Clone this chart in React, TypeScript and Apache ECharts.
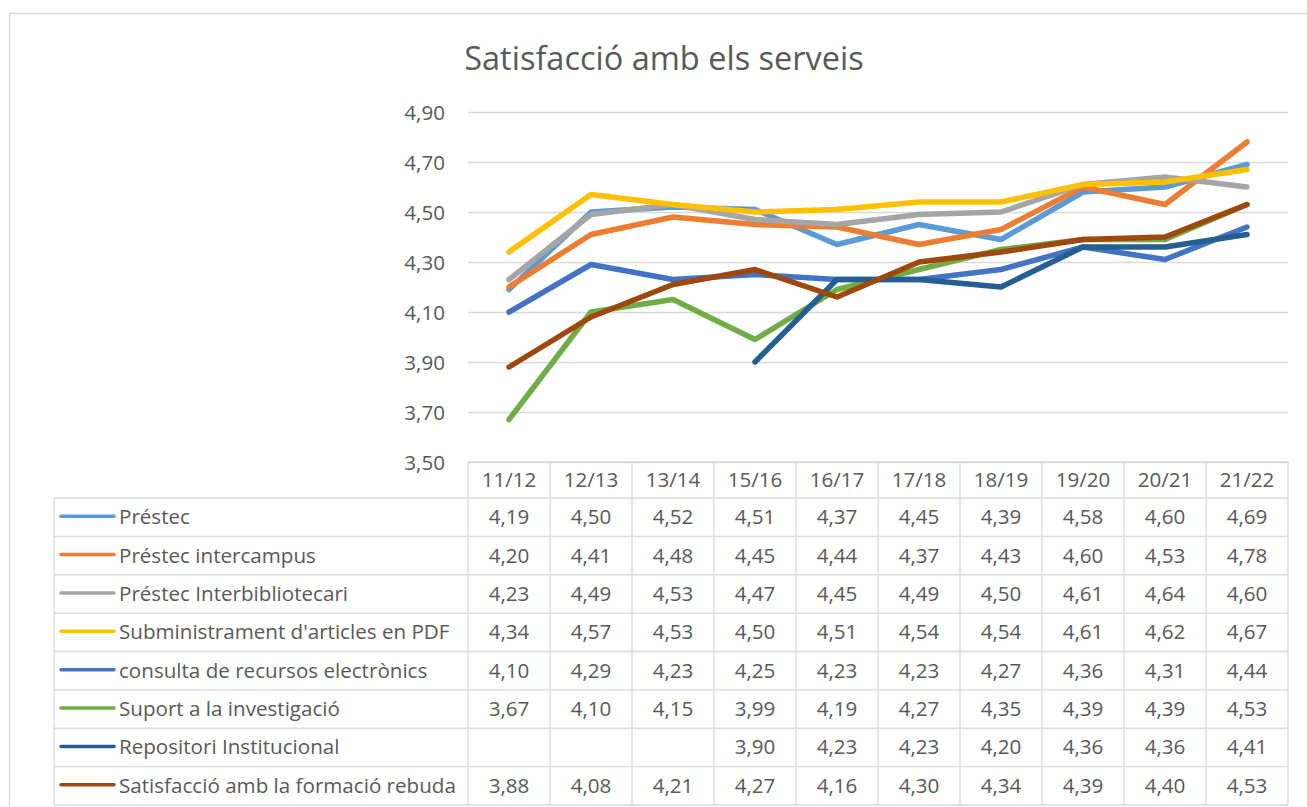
import React, { useEffect, useRef } from "react";
import * as echarts from "echarts";

const categories = ["11/12", "12/13", "13/14", "15/16", "16/17", "17/18", "18/19", "19/20", "20/21", "21/22"];
const seriesNames = [
  "Préstec",
  "Préstec intercampus",
  "Préstec Interbibliotecari",
  "Subministrament d'articles en PDF",
  "consulta de recursos electrònics",
  "Suport a la investigació",
  "Repositori Institucional",
  "Satisfacció amb la formació rebuda",
];
const prestec = [4.19, 4.5, 4.52, 4.51, 4.37, 4.45, 4.39, 4.58, 4.6, 4.69];
const prestecIntercampus = [4.2, 4.41, 4.48, 4.45, 4.44, 4.37, 4.43, 4.6, 4.53, 4.78];
const prestecInterbibliotecari = [4.23, 4.49, 4.53, 4.47, 4.45, 4.49, 4.5, 4.61, 4.64, 4.6];
const subministrament = [4.34, 4.57, 4.53, 4.5, 4.51, 4.54, 4.54, 4.61, 4.62, 4.67];
const consulta = [4.1, 4.29, 4.23, 4.25, 4.23, 4.23, 4.27, 4.36, 4.31, 4.44];
const suport = [3.67, 4.1, 4.15, 3.99, 4.19, 4.27, 4.35, 4.39, 4.39, 4.53];
const repositori = [null, null, null, 3.9, 4.23, 4.23, 4.2, 4.36, 4.36, 4.41];
const formacio = [3.88, 4.08, 4.21, 4.27, 4.16, 4.3, 4.34, 4.39, 4.4, 4.53];
const seriesValues: (number | null)[][] = [
  prestec, prestecIntercampus, prestecInterbibliotecari, subministrament,
  consulta, suport, repositori, formacio,
];
const colors = ["#5B9BD5", "#ED7D31", "#A5A5A5", "#FFC000", "#4472C4", "#70AD47", "#255E91", "#9E480E"];
const yTicks = { min: 3.5, max: 4.9, interval: 0.2 };
const titleText = "Satisfacció amb els serveis";

const W = 1307;
const H = 807;
const GRID_L = 468;
const GRID_R = 1288;
const GRID_T = 112;
const GRID_B = 462;
const TABLE_L = 54;
const HEADER_B = 498;
const TABLE_B = 805;
const FONT = '"Open Sans", "Noto Sans", sans-serif';
const TXT = "#595959";
const BORDER = "#d9d9d9";
const FS = 20.6;

const fmt = (v: number) => v.toFixed(2).replace(".", ",");

export default function App() {
  const ref = useRef<HTMLDivElement>(null);
  useEffect(() => {
    if (!ref.current) return;
    const chart = echarts.init(ref.current, null, { renderer: "svg" });
    const colW = (GRID_R - GRID_L) / categories.length;
    const rowH = (TABLE_B - HEADER_B) / seriesNames.length;
    const graphic: any[] = [];
    // outer chart border
    graphic.push({
      type: "rect", silent: true,
      shape: { x: 9.5, y: 13.5, width: 1400, height: 900 },
      style: { fill: "none", stroke: BORDER, lineWidth: 1.3 },
    });
    // table horizontal lines
    graphic.push({
      type: "line", silent: true,
      shape: { x1: GRID_L, y1: GRID_B, x2: GRID_R, y2: GRID_B },
      style: { stroke: BORDER, lineWidth: 1.3 },
    });
    for (let r = 0; r <= seriesNames.length; r++) {
      const y = HEADER_B + r * rowH;
      graphic.push({
        type: "line", silent: true,
        shape: { x1: TABLE_L, y1: y, x2: GRID_R, y2: y },
        style: { stroke: BORDER, lineWidth: 1.3 },
      });
    }
    // table vertical lines
    graphic.push({
      type: "line", silent: true,
      shape: { x1: TABLE_L, y1: HEADER_B, x2: TABLE_L, y2: TABLE_B },
      style: { stroke: BORDER, lineWidth: 1.3 },
    });
    for (let c = 0; c <= categories.length; c++) {
      const x = GRID_L + c * colW;
      graphic.push({
        type: "line", silent: true,
        shape: { x1: x, y1: GRID_B, x2: x, y2: TABLE_B },
        style: { stroke: BORDER, lineWidth: 1.3 },
      });
    }
    // rows: legend key, label, values
    seriesNames.forEach((name, r) => {
      const cy = HEADER_B + (r + 0.5) * rowH - 1;
      graphic.push({
        type: "line", silent: true,
        shape: { x1: 61, y1: cy, x2: 114, y2: cy },
        style: { stroke: colors[r], lineWidth: 3.5, lineCap: "round" },
      });
      graphic.push({
        type: "text", silent: true,
        style: {
          text: name, x: 119, y: cy, fill: TXT, font: `${FS}px ${FONT}`,
          textAlign: "left", textVerticalAlign: "middle", align: "left", verticalAlign: "middle",
        },
      });
      seriesValues[r].forEach((v, c) => {
        if (v === null) return;
        graphic.push({
          type: "text", silent: true,
          style: {
            text: fmt(v), x: GRID_L + (c + 0.5) * colW, y: cy, fill: TXT, font: `${FS}px ${FONT}`,
            textAlign: "center", textVerticalAlign: "middle", align: "center", verticalAlign: "middle",
          },
        });
      });
    });

    chart.setOption({
      animation: false,
      backgroundColor: "#ffffff",
      title: {
        text: titleText,
        left: 659,
        top: 36,
        textAlign: "center",
        textStyle: { fontFamily: FONT, fontSize: 32.5, fontWeight: "normal", color: TXT },
      },
      grid: { left: GRID_L, right: W - GRID_R, top: GRID_T, bottom: H - GRID_B, containLabel: false },
      xAxis: {
        type: "category",
        data: categories,
        boundaryGap: true,
        axisLine: { show: false },
        axisTick: { show: false },
        splitLine: { show: false },
        axisLabel: { color: TXT, fontFamily: FONT, fontSize: FS, margin: 6 },
      },
      yAxis: {
        type: "value",
        min: yTicks.min,
        max: yTicks.max,
        interval: yTicks.interval,
        axisLine: { show: false },
        axisTick: { show: false },
        axisLabel: { color: TXT, fontFamily: FONT, fontSize: FS, margin: 23, formatter: (v: number) => fmt(v) },
        splitLine: { lineStyle: { color: BORDER, width: 1.3 } },
      },
      series: seriesNames.map((name, i) => ({
        name,
        type: "line",
        data: seriesValues[i],
        symbol: "none",
        connectNulls: false,
        color: colors[i],
        lineStyle: { color: colors[i], width: 5.5, cap: "round", join: "round" },
      })),
      graphic,
    });
    return () => chart.dispose();
  }, []);
  return <div ref={ref} style={{ position: "fixed", left: 0, top: 0, width: W, height: H, background: "#fff" }} />;
}
